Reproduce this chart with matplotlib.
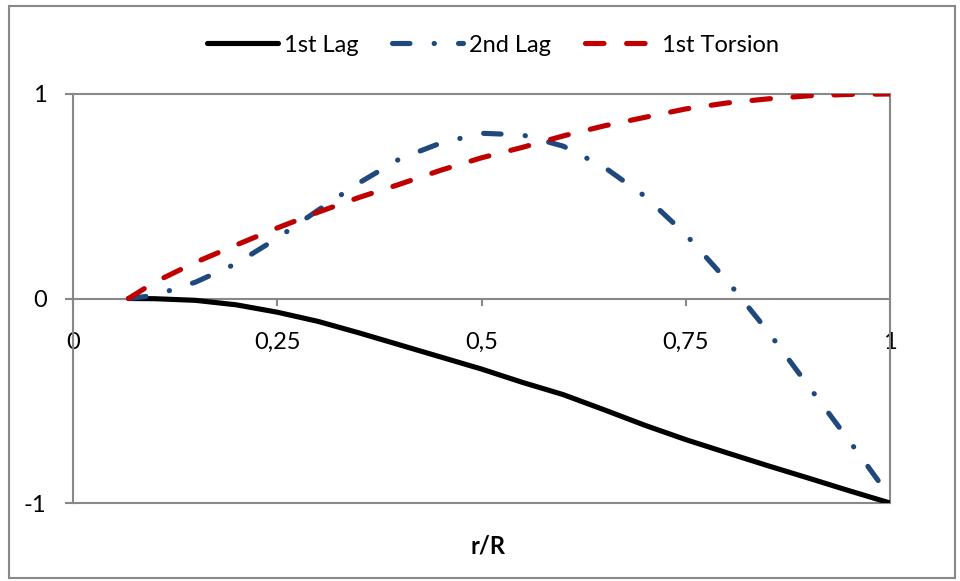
import matplotlib
matplotlib.use("Agg")
import matplotlib.pyplot as plt
from matplotlib.patches import Rectangle

plt.rcParams['font.family'] = ['Lato', 'DejaVu Sans']

# blade station r/R and mode shape values
r = [0.068, 0.1, 0.15, 0.2, 0.25, 0.3, 0.35, 0.4, 0.45, 0.5,
     0.55, 0.6, 0.65, 0.7, 0.75, 0.8, 0.85, 0.9, 0.95, 1.0]
lag1 = [0.0, -0.001, -0.009, -0.031, -0.067, -0.112, -0.168, -0.227, -0.286, -0.345,
        -0.41, -0.47, -0.544, -0.62, -0.69, -0.754, -0.817, -0.878, -0.94, -1.0]
lag2 = [0.0, 0.015, 0.08, 0.171, 0.295, 0.432, 0.565, 0.683, 0.76, 0.808,
        0.80, 0.745, 0.643, 0.50, 0.313, 0.09, -0.158, -0.427, -0.695, -0.97]
tors1 = [0.0, 0.08, 0.177, 0.262, 0.345, 0.422, 0.494, 0.559, 0.627, 0.688,
         0.739, 0.795, 0.844, 0.886, 0.927, 0.956, 0.976, 0.991, 0.998, 1.0]

xticks = [0, 0.25, 0.5, 0.75, 1]
xticklabels = ['0', '0,25', '0,5', '0,75', '1']
yticks = [-1, 0, 1]
yticklabels = ['-1', '0', '1']

grey = '#888888'
fs = 17

fig = plt.figure(figsize=(9.6, 5.81), dpi=100)
ax = fig.add_axes([73/960, 1-503/581, (890-73)/960, (503-94)/581])

lw = 3.7
ax.plot(r, lag1, color='black', lw=lw, solid_capstyle='round',
        solid_joinstyle='round', label='1st Lag', zorder=3)
ax.plot(r, lag2, color='#1F497D', lw=lw, dashes=(3.4, 4.7, 0.05, 4.7),
        dash_capstyle='round', label='2nd Lag', zorder=4)
ax.plot(r, tors1, color='#C00000', lw=lw, dashes=(3.6, 4.4),
        dash_capstyle='round', label='1st Torsion', zorder=5)

ax.set_xlim(0, 1)
ax.set_ylim(-1, 1)

# x axis crosses at zero
ax.spines['bottom'].set_position(('data', 0))
for s in ['bottom', 'left', 'right', 'top']:
    ax.spines[s].set_color(grey)
    ax.spines[s].set_linewidth(1.5)
ax.axhline(-1, color=grey, lw=1.5, clip_on=False, zorder=1)

ax.set_xticks(xticks)
ax.set_xticklabels(xticklabels)
ax.set_yticks(yticks)
ax.set_yticklabels(yticklabels)
ax.tick_params(axis='x', direction='out', length=5, width=1.5, color=grey,
               labelsize=fs, pad=19)
ax.tick_params(axis='y', direction='out', length=6, width=1.5, color=grey,
               labelsize=fs, pad=13)

fig.legend(loc='center', bbox_to_anchor=(493/960, 1-45/581), ncol=3, frameon=False,
           fontsize=fs, handlelength=3.0, handletextpad=0.25, columnspacing=1.45)

fig.text(488/960, 1-546/581, 'r/R', ha='center', va='center', fontsize=fs,
         fontweight='bold')

fig.patches.append(Rectangle((9/960, 1-578/581), (955-9)/960, (578-6)/581,
                             transform=fig.transFigure, fill=False,
                             edgecolor=grey, lw=1.5))

fig.savefig('out.png', dpi=100)
